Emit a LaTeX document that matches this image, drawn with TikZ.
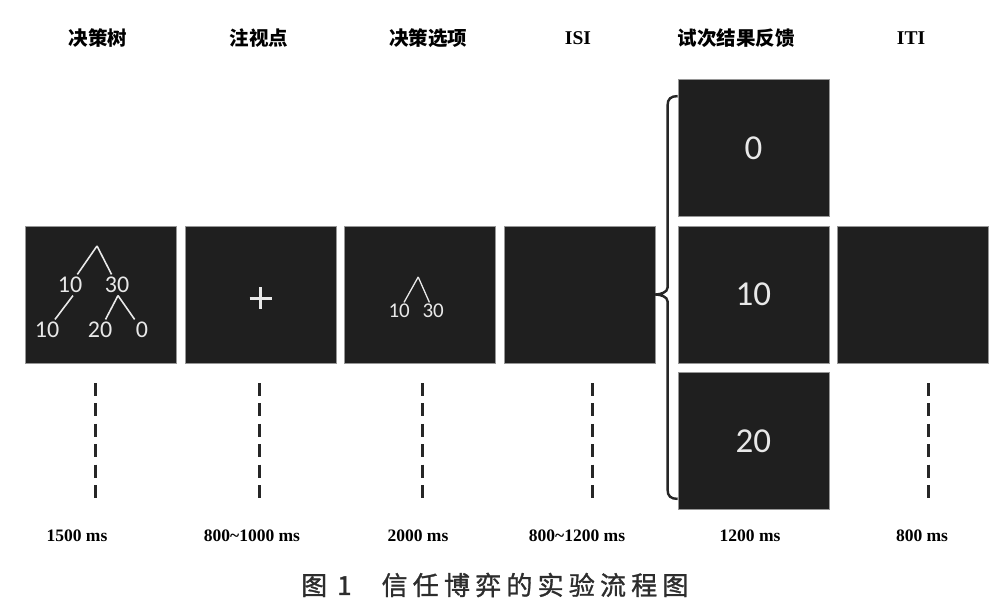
\documentclass[tikz,border=0pt]{standalone}
\usepackage{fontspec}
\setmainfont{Liberation Serif}
\newfontfamily\cjk{Noto Sans CJK SC}
\newfontfamily\capfont[LetterSpace=20, FakeBold=1.2]{Noto Sans CJK SC}
\newfontfamily\scrfont{Carlito}
\usepackage{xcolor}
\usepackage{tikz}
\usetikzlibrary{positioning, calc}
\definecolor{scrbg}{RGB}{31,31,31}
\definecolor{scredge}{RGB}{150,150,150}
\definecolor{scrtext}{RGB}{232,232,232}
\definecolor{captiongray}{RGB}{45,45,45}

\begin{document}
\begin{tikzpicture}[
    x=1pt, y=-1pt,
    screen/.style={fill=scrbg, draw=scredge, line width=0.6pt, minimum width=151pt, minimum height=137pt, inner sep=0pt, text=scrtext, font=\scrfont\fontsize{35}{35}\selectfont},
    stage/.style={font=\cjk\bfseries\fontsize{19.5}{20}\selectfont},
    stagelat/.style={font=\bfseries\fontsize{19.5}{20}\selectfont},
    duration/.style={font=\bfseries\fontsize{17.5}{18}\selectfont},
    treelabel/.style={text=scrtext, font=\scrfont\fontsize{24}{24}\selectfont, inner sep=2.5pt},
    optlabel/.style={text=scrtext, font=\scrfont\fontsize{21}{21}\selectfont, inner sep=1.5pt},
    branch/.style={draw=scrtext, line width=1.6pt},
    timeline/.style={black!85, line width=3pt, dash pattern=on 13pt off 7.4pt},
    brace/.style={black!85, line width=2.4pt},
]
    \useasboundingbox (0,0) rectangle (1007,607);
    \fill[white] (0,0) rectangle (1007,607);

    \node[screen] (tree) at (101,294.5) {};
    \node[screen, right=8pt of tree] (fix) {};
    \node[screen, right=8pt of fix] (opt) {};
    \node[screen, right=7.5pt of opt] (isi) {};
    \node[screen, right=22.5pt of isi] (fb1) {10};
    \node[screen, above=9pt of fb1] (fb0) {0};
    \node[screen, below=9pt of fb1] (fb2) {20};
    \node[screen, right=8pt of fb1] (iti) {};

    \begin{scope}[shift={(tree.center)}]
        \coordinate (apex) at (-4,-48.5);
        \node[treelabel] (t10) at (-31,-9.5) {10};
        \node[treelabel] (t30) at (16,-9.5) {30};
        \node[treelabel] (t10b) at (-54,35.5) {10};
        \node[treelabel] (t20) at (-1,35.5) {20};
        \node[treelabel] (t0) at (41,35.5) {0};
    \end{scope}
    \draw[branch] (apex) -- (t10);
    \draw[branch] (apex) -- (t30);
    \draw[branch] ($(t10.south)+(3,0)$) -- (t10b);
    \draw[branch] ($(t30.south)+(1,0)$) -- (t20);
    \draw[branch] ($(t30.south)+(1,0)$) -- (t0);

    \coordinate (fixpt) at ($(fix.center)+(0,3.5)$);
    \draw[scrtext, line width=3pt] ($(fixpt)+(-11,0)$) -- ($(fixpt)+(11,0)$)
        ($(fixpt)+(0,-11)$) -- ($(fixpt)+(0,11)$);

    \begin{scope}[shift={(opt.center)}]
        \coordinate (oapex) at (-2,-17.5);
        \node[optlabel] (o10) at (-21,16.5) {10};
        \node[optlabel] (o30) at (13,16.5) {30};
    \end{scope}
    \draw[branch, line width=1.3pt] (oapex) -- (o10);
    \draw[branch, line width=1.3pt] (oapex) -- (o30);

    % brace from ISI to the three outcomes
    \coordinate (bt) at ($(fb0.north west)+(0,17)$);
    \coordinate (bb) at ($(fb2.south west)+(0,-11)$);
    \coordinate (tip) at (isi.east);
    \draw[brace] (bt) .. controls +(-7,0) and +(0,-6) .. ($(bt)+(-10,9)$)
        -- ($(tip -| bt)+(-10,-7)$)
        .. controls +(0,5) and +(5,0) .. (tip)
        .. controls +(5,0) and +(0,-5) .. ($(tip -| bt)+(-10,7)$)
        -- ($(bb)+(-10,-9)$)
        .. controls +(0,6) and +(-7,0) .. (bb);

    \node[stage] (lbtree) at (98,38) {决策树};
    \node[stage] (lbfix) at (259,38) {注视点};
    \node[stage] (lbopt) at (428,38) {决策选项};
    \node[stagelat] (lbisi) at (578,38) {ISI};
    \node[stage] (lbfb) at (736,38) {试次结果反馈};
    \node[stagelat] (lbiti) at (911,38) {ITI};

    \foreach \x in {95,259,422,592,928}
        \draw[timeline] (\x,383) -- (\x,498);

    \node[duration] (dtree) at (77,536) {1500 ms};
    \node[duration] (dfix) at (252,536) {800\textasciitilde1000 ms};
    \node[duration] (dopt) at (418,536) {2000 ms};
    \node[duration] (disi) at (577,536) {800\textasciitilde1200 ms};
    \node[duration] (dfb) at (750,536) {1200 ms};
    \node[duration] (diti) at (922,536) {800 ms};

    \node[font=\capfont\fontsize{26}{26}\selectfont, text=captiongray, anchor=west, inner sep=0pt] (caption) at (301,585) {图\hspace{10pt}1\hspace{30pt}信任博弈的实验流程图};
\end{tikzpicture}
\end{document}
